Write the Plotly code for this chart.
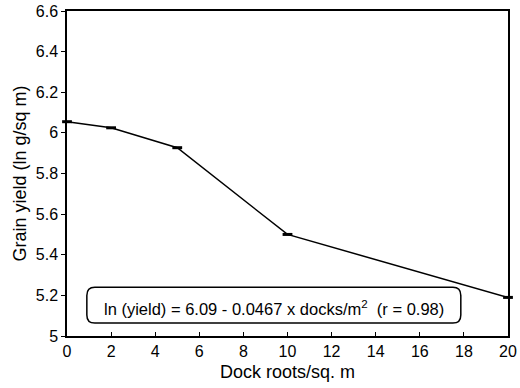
import plotly.graph_objects as go

dock_density = [0, 2, 5, 10, 20]
ln_yield = [6.055, 6.025, 5.927, 5.50, 5.19]
x_ticks = [0, 2, 4, 6, 8, 10, 12, 14, 16, 18, 20]
y_ticks = [5, 5.2, 5.4, 5.6, 5.8, 6, 6.2, 6.4, 6.6]
y_tick_labels = ["5", "5.2", "5.4", "5.6", "5.8", "6", "6.2", "6.4", "6.6"]
eq_text = "ln (yield) = 6.09 - 0.0467 x docks/m<sup>2</sup>  (r = 0.98)"

FONT = "Liberation Sans, Arial, Helvetica, sans-serif"

fig = go.Figure()
fig.add_trace(go.Scatter(
    x=dock_density, y=ln_yield, mode="lines+markers",
    line=dict(color="black", width=1.5),
    marker=dict(symbol="line-ew", size=7, line=dict(color="black", width=3)),
    showlegend=False, cliponaxis=False,
))

# rounded box around equation (paper coords)
x0, x1, y0, y1 = 0.045, 0.893, 0.04, 0.15
rx, ry = 0.018, 0.025
path = (f"M {x0+rx},{y0} L {x1-rx},{y0} Q {x1},{y0} {x1},{y0+ry} "
        f"L {x1},{y1-ry} Q {x1},{y1} {x1-rx},{y1} L {x0+rx},{y1} "
        f"Q {x0},{y1} {x0},{y1-ry} L {x0},{y0+ry} Q {x0},{y0} {x0+rx},{y0} Z")
fig.add_shape(type="path", path=path, xref="paper", yref="paper",
              line=dict(color="black", width=1.5), fillcolor="white", layer="above")
fig.add_annotation(x=(x0+x1)/2, y=(y0+y1)/2 - 0.008, xref="paper", yref="paper",
                   text=eq_text, showarrow=False, yanchor="middle",
                   font=dict(family=FONT, size=16.5, color="black"))

axis_common = dict(showgrid=False, zeroline=False, showline=True, mirror=True,
                   linecolor="black", linewidth=1.5, ticklen=4, tickcolor="black",
                   automargin=False,
                   tickfont=dict(family=FONT, size=16, color="black"))

fig.update_xaxes(range=[0, 20], tickvals=x_ticks, ticks="inside",
                 title=dict(text="Dock roots/sq. m", font=dict(family=FONT, size=18, color="black"), standoff=6),
                 **axis_common)
fig.update_yaxes(range=[5, 6.6], tickvals=y_ticks, ticktext=y_tick_labels, ticks="outside",
                 title=dict(text="Grain yield (ln g/sq m)", font=dict(family=FONT, size=18, color="black"), standoff=4),
                 **axis_common)

fig.update_layout(width=520, height=388, margin=dict(l=67, r=12, t=11, b=52),
                  paper_bgcolor="white", plot_bgcolor="white",
                  font=dict(family=FONT, color="black"))

fig.write_html("out.html", config={"displayModeBar": False},
               post_script="document.body.style.margin='0';document.body.style.overflow='hidden';")
